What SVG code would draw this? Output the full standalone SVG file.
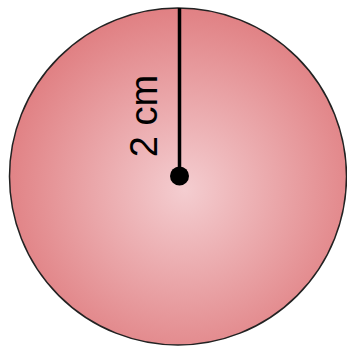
<svg xmlns="http://www.w3.org/2000/svg" width="347" height="349" viewBox="0 0 347 349">
<defs>
<radialGradient id="g" cx="0.52" cy="0.54" r="0.55">
<stop offset="0" stop-color="#f4cdd0"/>
<stop offset="1" stop-color="#e07f82"/>
</radialGradient>
<style>.t{font-family:"Liberation Sans",Arial,sans-serif;font-size:38px;fill:#000}</style>
</defs>
<g id="circle">
<circle cx="178" cy="176.5" r="168.5" fill="url(#g)" stroke="#222" stroke-width="1.5"/>
</g>
<g id="connectors">
<line x1="179.5" y1="8" x2="179.5" y2="176" stroke="#000" stroke-width="3.5"/>
</g>
<g id="center">
<circle cx="179.5" cy="176" r="9.5" fill="#000"/>
</g>
<g id="label">
<text class="t" text-anchor="middle" transform="translate(157,116) rotate(-90)">2 cm</text>
</g>
</svg>
